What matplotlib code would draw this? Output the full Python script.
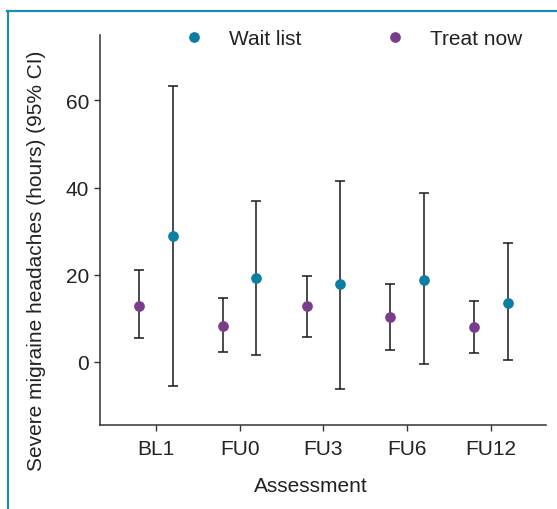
import matplotlib
matplotlib.use("Agg")
import matplotlib.pyplot as plt
from matplotlib.lines import Line2D
import numpy as np

plt.rcParams['font.family'] = ['Liberation Sans', 'DejaVu Sans']

assessments = ["BL1", "FU0", "FU3", "FU6", "FU12"]
treat_mean = [12.9, 8.2, 12.7, 10.3, 7.9]
treat_low = [5.4, 2.3, 5.8, 2.7, 2.1]
treat_high = [21.1, 14.6, 19.8, 17.9, 14.0]
wait_mean = [28.9, 19.3, 17.8, 18.8, 13.6]
wait_low = [-5.6, 1.5, -6.3, -0.6, 0.4]
wait_high = [63.4, 36.9, 41.5, 38.7, 27.2]

teal = "#0a7fa3"
purple = "#7a3d8c"
fs = 15

fig = plt.figure(figsize=(5.57, 5.10), dpi=100)
ax = fig.add_axes([100/557, 1-426/510, (546-100)/557, (426-36)/510])

x = np.arange(len(assessments))
off = 0.2

def draw(xpos, mean, low, high, color, label):
    mean = np.array(mean); low = np.array(low); high = np.array(high)
    ax.errorbar(xpos, mean, yerr=[mean-low, high-mean], fmt='none',
                ecolor='#1a1a1a', elinewidth=1.1, capsize=3.8, capthick=1.1, zorder=2)
    ax.plot(xpos, mean, 'o', color=color, markersize=7.7, markeredgewidth=0,
            label=label, zorder=3, linestyle='none')

draw(x + off, wait_mean, wait_low, wait_high, teal, "Wait list")
draw(x - off, treat_mean, treat_low, treat_high, purple, "Treat now")

ax.set_xlim(-0.67, 4.66)
ax.set_ylim(-14.5, 75)
ax.set_xticks(x)
ax.set_xticklabels(assessments)
ax.set_yticks([0, 20, 40, 60])
ax.tick_params(axis='both', labelsize=fs, length=4, width=1, color='#333333', labelcolor='#222222')
ax.tick_params(axis='x', pad=6)
ax.tick_params(axis='y', pad=4)
for s in ['top', 'right']:
    ax.spines[s].set_visible(False)
for s in ['left', 'bottom']:
    ax.spines[s].set_linewidth(1.1)
    ax.spines[s].set_color('#333333')

ax.set_xlabel("Assessment", fontsize=fs, color='#222222', labelpad=13)
ax.xaxis.label.set_x(0.472)
ax.set_ylabel("Severe migraine headaches (hours) (95% CI)", fontsize=fs, color='#222222', labelpad=14)
ax.yaxis.label.set_y(0.423)

fig.legend(loc='center left', bbox_to_anchor=(183.6/557, 1-40/510), ncol=2, frameon=False,
           fontsize=fs, handlelength=1.0, handletextpad=1.18, columnspacing=4.0,
           borderpad=0, borderaxespad=0, labelcolor='#222222')

# teal frame on top and left
fig.add_artist(Line2D([7/557, 1.0], [1-12/510, 1-12/510], transform=fig.transFigure,
                      color='#1b8db0', linewidth=1.6))
fig.add_artist(Line2D([8/557, 8/557], [0, 1-12/510], transform=fig.transFigure,
                      color='#1b8db0', linewidth=1.6))

fig.savefig("out.png", dpi=100)
